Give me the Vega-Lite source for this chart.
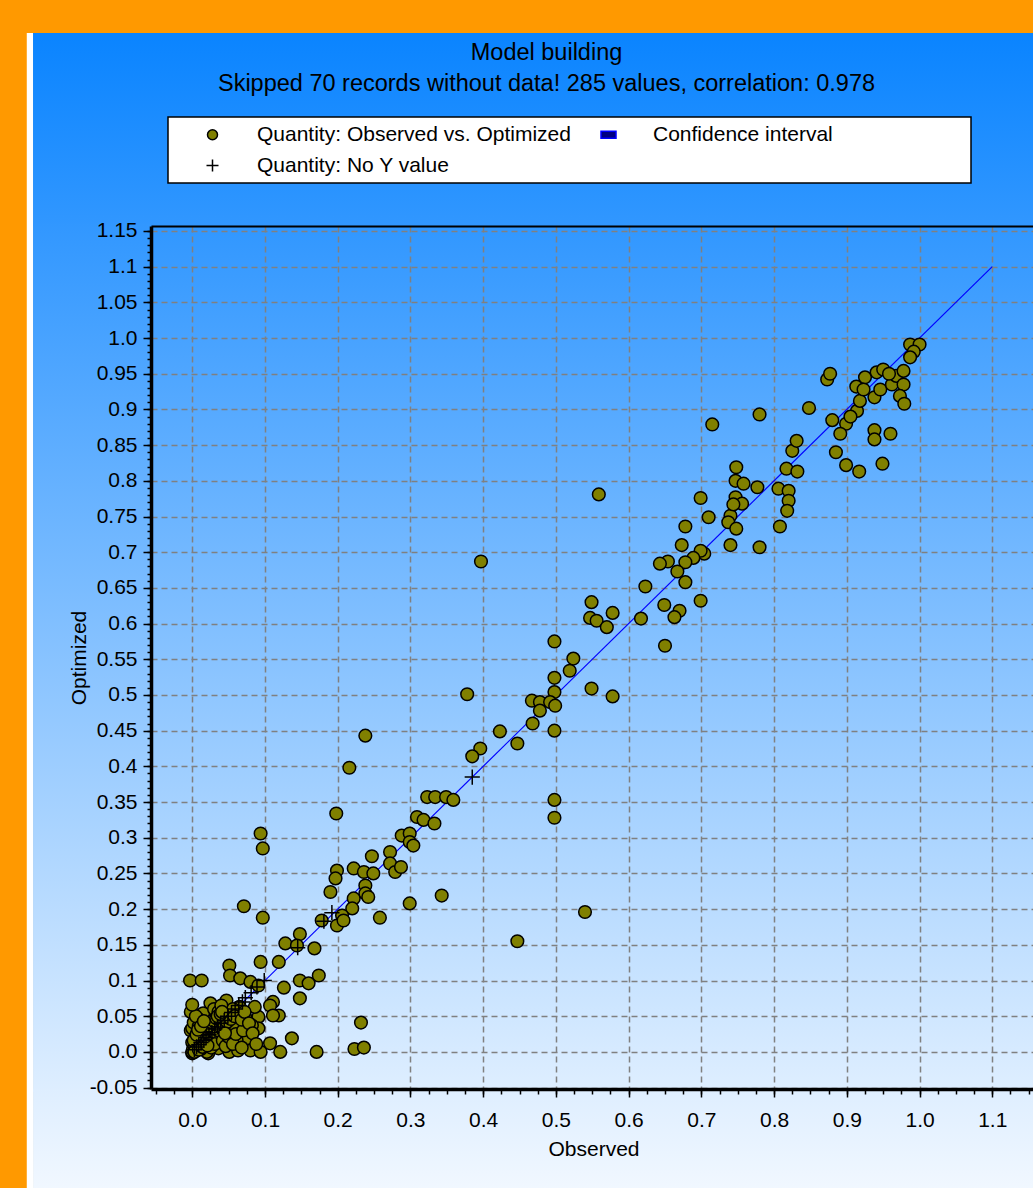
{
  "$schema": "https://vega.github.io/schema/vega-lite/v6.json",
  "width": 885,
  "height": 863,
  "autosize": {"type": "none"},
  "padding": {"left": 151, "top": 226, "right": 0, "bottom": 99},
  "background": "#FF9900",
  "config": {
    "font": "Liberation Sans",
    "view": {
      "stroke": null,
      "fill": {"gradient": "linear", "x1": 0, "y1": 0, "x2": 0, "y2": 1, "stops": [{"offset": 0, "color": "#3197FF"}, {"offset": 1, "color": "#DEEEFF"}]}
    },
    "legend": {"strokeWidth": 1.5}
  },
  "title": {
    "text": "Model building",
    "subtitle": "Skipped 70 records without data! 285 values, correlation: 0.978",
    "anchor": "middle",
    "frame": "group",
    "dx": -47,
    "offset": -63,
    "font": "Liberation Sans",
    "subtitleFont": "Liberation Sans",
    "fontSize": 23.5,
    "subtitleFontSize": 23.5,
    "fontWeight": "normal",
    "color": "#000000",
    "subtitleColor": "#000000",
    "subtitlePadding": 8
  },
  "resolve": {"axis": {"x": "independent", "y": "independent"}},
  "layer": [
    {
      "data": {"values": [{}]},
      "mark": {"type": "rect", "fill": "#FFFFFF", "clip": false},
      "encoding": {
        "x": {"datum": -0.2275, "type": "quantitative", "scale": {"domain": [-0.0567, 1.1601], "nice": false, "zero": false},
          "axis": {"orient": "bottom", "values": [-0.05,-0.025,0,0.025,0.05,0.075,0.1,0.125,0.15,0.175,0.2,0.225,0.25,0.275,0.3,0.325,0.35,0.375,0.4,0.425,0.45,0.475,0.5,0.525,0.55,0.575,0.6,0.625,0.65,0.675,0.7,0.725,0.75,0.775,0.8,0.825,0.85,0.875,0.9,0.925,0.95,0.975,1,1.025,1.05,1.075,1.1,1.125,1.15], "labels": false, "grid": false, "domain": false, "ticks": true, "tickSize": 5, "tickWidth": 1.5, "tickColor": "#000000", "title": null, "zindex": 1}},
        "x2": {"datum": -0.2185},
        "y": {"datum": -0.2, "type": "quantitative", "scale": {"domain": [-0.052, 1.157], "nice": false, "zero": false},
          "axis": {"orient": "left", "tickCount": 120, "labels": false, "grid": false, "domain": false, "ticks": true, "tickSize": 4, "tickWidth": 1.5, "tickColor": "#000000", "title": null, "zindex": 1}},
        "y2": {"datum": 1.4274}
      }
    },
    {
      "data": {"values": [{}]},
      "mark": {"type": "rect", "clip": false,
        "fill": {"gradient": "linear", "x1": 0, "y1": 0, "x2": 0, "y2": 1, "stops": [{"offset": 0, "color": "#0A84FF"}, {"offset": 1, "color": "#3197FF"}]}},
      "encoding": {
        "x": {"datum": -0.2189, "type": "quantitative", "scale": {"domain": [-0.0567, 1.1601], "nice": false, "zero": false},
          "axis": {"orient": "bottom", "values": [0,0.1,0.2,0.3,0.4,0.5,0.6,0.7,0.8,0.9,1,1.1], "grid": true, "gridColor": "#808080", "gridDash": [6, 4], "gridWidth": 1.5, "labels": false, "ticks": false, "domain": false, "title": null, "zindex": 0}},
        "x2": {"datum": 1.2},
        "y": {"datum": 1.1565, "type": "quantitative", "scale": {"domain": [-0.052, 1.157], "nice": false, "zero": false},
          "axis": {"orient": "left", "values": [-0.05,0,0.05,0.1,0.15,0.2,0.25,0.3,0.35,0.4,0.45,0.5,0.55,0.6,0.65,0.7,0.75,0.8,0.85,0.9,0.95,1,1.05,1.1,1.15], "grid": true, "gridColor": "#808080", "gridDash": [6, 4], "gridWidth": 1.5, "labels": false, "ticks": false, "domain": false, "title": null, "zindex": 0}},
        "y2": {"datum": 1.4274}
      }
    },
    {
      "data": {"values": [{}]},
      "mark": {"type": "rect", "clip": false,
        "fill": {"gradient": "linear", "x1": 0, "y1": 0, "x2": 0, "y2": 1, "stops": [{"offset": 0, "color": "#3197FF"}, {"offset": 1, "color": "#DEEEFF"}]}},
      "encoding": {
        "x": {"datum": -0.2189, "type": "quantitative", "scale": {"domain": [-0.0567, 1.1601], "nice": false, "zero": false},
          "axis": {"orient": "bottom", "values": [0,0.1,0.2,0.3,0.4,0.5,0.6,0.7,0.8,0.9,1,1.1], "format": ".1f", "grid": false, "domain": true, "domainColor": "#000000", "domainWidth": 3.5, "ticks": true, "tickSize": 8, "tickWidth": 1.5, "tickColor": "#000000", "labelFont": "Liberation Sans", "labelFontSize": 21, "labelColor": "#000000", "labelPadding": 12, "labelOverlap": false, "title": "Observed", "titleFont": "Liberation Sans", "titleFontSize": 21, "titleFontWeight": "normal", "titleColor": "#000000", "titlePadding": 8, "zindex": 1}},
        "x2": {"datum": -0.0562},
        "y": {"datum": -0.056, "type": "quantitative", "scale": {"domain": [-0.052, 1.157], "nice": false, "zero": false},
          "axis": {"orient": "left", "values": [-0.05,0,0.05,0.1,0.15,0.2,0.25,0.3,0.35,0.4,0.45,0.5,0.55,0.6,0.65,0.7,0.75,0.8,0.85,0.9,0.95,1,1.05,1.1,1.15], "labelExpr": "replace((round(datum.value*100) % 10 == 0) ? format(datum.value, '.1f') : format(datum.value, '.2f'), '\u2212', '-')", "grid": false, "domain": true, "domainColor": "#000000", "domainWidth": 3.5, "ticks": true, "tickSize": 8, "tickWidth": 1.5, "tickColor": "#000000", "labelFont": "Liberation Sans", "labelFontSize": 21, "labelColor": "#000000", "labelPadding": 6, "labelOverlap": false, "title": "Optimized", "titleFont": "Liberation Sans", "titleFontSize": 21, "titleFontWeight": "normal", "titleColor": "#000000", "titlePadding": 0, "zindex": 1}},
        "y2": {"datum": 1.1605}
      }
    },
    {
      "data": {"values": [{}]},
      "mark": {"type": "rect", "clip": false,
        "fill": {"gradient": "linear", "x1": 0, "y1": 0, "x2": 0, "y2": 1, "stops": [{"offset": 0, "color": "#DEEEFF"}, {"offset": 1, "color": "#F2F8FF"}]}},
      "encoding": {
        "x": {"datum": -0.2189, "type": "quantitative", "scale": {"domain": [-0.0567, 1.1601], "nice": false, "zero": false},
          "axis": {"orient": "top", "domain": true, "domainColor": "#000000", "domainWidth": 2, "ticks": false, "labels": false, "grid": false, "title": null, "zindex": 1}},
        "x2": {"datum": 1.2},
        "y": {"datum": -0.2, "type": "quantitative", "scale": {"domain": [-0.052, 1.157], "nice": false, "zero": false}, "axis": null},
        "y2": {"datum": -0.0515}
      }
    },
    {
      "data": {"values": [{"x": 0, "y": 0}, {"x": 1.1, "y": 1.1}]},
      "mark": {"type": "line", "stroke": "#0000FF", "strokeWidth": 1.2},
      "encoding": {
        "x": {"field": "x", "type": "quantitative", "scale": {"domain": [-0.0567, 1.1601], "nice": false, "zero": false}, "axis": null},
        "y": {"field": "y", "type": "quantitative", "scale": {"domain": [-0.052, 1.157], "nice": false, "zero": false}, "axis": null}
      }
    },
    {
      "data": {"values": [
        {"x":0.559,"y":0.781,"s":"Quantity: Observed vs. Optimized"},{"x":0.699,"y":0.776,"s":"Quantity: Observed vs. Optimized"},{"x":0.715,"y":0.879,"s":"Quantity: Observed vs. Optimized"},{"x":0.780,"y":0.893,"s":"Quantity: Observed vs. Optimized"},{"x":0.710,"y":0.749,"s":"Quantity: Observed vs. Optimized"},{"x":0.740,"y":0.751,"s":"Quantity: Observed vs. Optimized"},{"x":0.748,"y":0.819,"s":"Quantity: Observed vs. Optimized"},{"x":0.747,"y":0.800,"s":"Quantity: Observed vs. Optimized"},{"x":0.758,"y":0.796,"s":"Quantity: Observed vs. Optimized"},{"x":0.777,"y":0.791,"s":"Quantity: Observed vs. Optimized"},
        {"x":0.747,"y":0.777,"s":"Quantity: Observed vs. Optimized"},{"x":0.756,"y":0.768,"s":"Quantity: Observed vs. Optimized"},{"x":0.806,"y":0.789,"s":"Quantity: Observed vs. Optimized"},{"x":0.820,"y":0.786,"s":"Quantity: Observed vs. Optimized"},{"x":0.820,"y":0.772,"s":"Quantity: Observed vs. Optimized"},{"x":0.818,"y":0.758,"s":"Quantity: Observed vs. Optimized"},{"x":0.825,"y":0.842,"s":"Quantity: Observed vs. Optimized"},{"x":0.831,"y":0.856,"s":"Quantity: Observed vs. Optimized"},{"x":0.817,"y":0.817,"s":"Quantity: Observed vs. Optimized"},{"x":0.832,"y":0.813,"s":"Quantity: Observed vs. Optimized"},
        {"x":0.848,"y":0.902,"s":"Quantity: Observed vs. Optimized"},{"x":0.880,"y":0.885,"s":"Quantity: Observed vs. Optimized"},{"x":0.899,"y":0.880,"s":"Quantity: Observed vs. Optimized"},{"x":0.891,"y":0.866,"s":"Quantity: Observed vs. Optimized"},{"x":0.885,"y":0.840,"s":"Quantity: Observed vs. Optimized"},{"x":0.899,"y":0.822,"s":"Quantity: Observed vs. Optimized"},{"x":0.917,"y":0.813,"s":"Quantity: Observed vs. Optimized"},{"x":0.938,"y":0.871,"s":"Quantity: Observed vs. Optimized"},{"x":0.938,"y":0.858,"s":"Quantity: Observed vs. Optimized"},{"x":0.960,"y":0.866,"s":"Quantity: Observed vs. Optimized"},
        {"x":0.949,"y":0.824,"s":"Quantity: Observed vs. Optimized"},{"x":0.873,"y":0.942,"s":"Quantity: Observed vs. Optimized"},{"x":0.877,"y":0.950,"s":"Quantity: Observed vs. Optimized"},{"x":0.914,"y":0.898,"s":"Quantity: Observed vs. Optimized"},{"x":0.918,"y":0.912,"s":"Quantity: Observed vs. Optimized"},{"x":0.913,"y":0.932,"s":"Quantity: Observed vs. Optimized"},{"x":0.925,"y":0.945,"s":"Quantity: Observed vs. Optimized"},{"x":0.923,"y":0.928,"s":"Quantity: Observed vs. Optimized"},{"x":0.938,"y":0.917,"s":"Quantity: Observed vs. Optimized"},{"x":0.946,"y":0.928,"s":"Quantity: Observed vs. Optimized"},
        {"x":0.941,"y":0.952,"s":"Quantity: Observed vs. Optimized"},{"x":0.950,"y":0.956,"s":"Quantity: Observed vs. Optimized"},{"x":0.962,"y":0.935,"s":"Quantity: Observed vs. Optimized"},{"x":0.968,"y":0.947,"s":"Quantity: Observed vs. Optimized"},{"x":0.978,"y":0.954,"s":"Quantity: Observed vs. Optimized"},{"x":0.978,"y":0.935,"s":"Quantity: Observed vs. Optimized"},{"x":0.973,"y":0.919,"s":"Quantity: Observed vs. Optimized"},{"x":0.979,"y":0.908,"s":"Quantity: Observed vs. Optimized"},{"x":0.987,"y":0.991,"s":"Quantity: Observed vs. Optimized"},{"x":1.000,"y":0.991,"s":"Quantity: Observed vs. Optimized"},
        {"x":0.992,"y":0.981,"s":"Quantity: Observed vs. Optimized"},{"x":0.987,"y":0.973,"s":"Quantity: Observed vs. Optimized"},{"x":0.958,"y":0.950,"s":"Quantity: Observed vs. Optimized"},{"x":0.905,"y":0.890,"s":"Quantity: Observed vs. Optimized"},
        {"x":0.744,"y":0.767,"s":"Quantity: Observed vs. Optimized"},{"x":0.808,"y":0.736,"s":"Quantity: Observed vs. Optimized"},{"x":0.780,"y":0.707,"s":"Quantity: Observed vs. Optimized"},{"x":0.737,"y":0.742,"s":"Quantity: Observed vs. Optimized"},{"x":0.748,"y":0.733,"s":"Quantity: Observed vs. Optimized"},{"x":0.740,"y":0.710,"s":"Quantity: Observed vs. Optimized"},{"x":0.678,"y":0.736,"s":"Quantity: Observed vs. Optimized"},{"x":0.673,"y":0.710,"s":"Quantity: Observed vs. Optimized"},{"x":0.704,"y":0.698,"s":"Quantity: Observed vs. Optimized"},{"x":0.699,"y":0.702,"s":"Quantity: Observed vs. Optimized"},
        {"x":0.689,"y":0.692,"s":"Quantity: Observed vs. Optimized"},{"x":0.678,"y":0.686,"s":"Quantity: Observed vs. Optimized"},{"x":0.667,"y":0.673,"s":"Quantity: Observed vs. Optimized"},{"x":0.678,"y":0.658,"s":"Quantity: Observed vs. Optimized"},{"x":0.654,"y":0.687,"s":"Quantity: Observed vs. Optimized"},{"x":0.643,"y":0.684,"s":"Quantity: Observed vs. Optimized"},{"x":0.623,"y":0.652,"s":"Quantity: Observed vs. Optimized"},{"x":0.699,"y":0.632,"s":"Quantity: Observed vs. Optimized"},{"x":0.649,"y":0.626,"s":"Quantity: Observed vs. Optimized"},{"x":0.670,"y":0.618,"s":"Quantity: Observed vs. Optimized"},
        {"x":0.663,"y":0.609,"s":"Quantity: Observed vs. Optimized"},{"x":0.617,"y":0.607,"s":"Quantity: Observed vs. Optimized"},{"x":0.650,"y":0.569,"s":"Quantity: Observed vs. Optimized"},{"x":0.549,"y":0.630,"s":"Quantity: Observed vs. Optimized"},{"x":0.547,"y":0.608,"s":"Quantity: Observed vs. Optimized"},{"x":0.556,"y":0.604,"s":"Quantity: Observed vs. Optimized"},{"x":0.570,"y":0.595,"s":"Quantity: Observed vs. Optimized"},{"x":0.578,"y":0.615,"s":"Quantity: Observed vs. Optimized"},{"x":0.549,"y":0.509,"s":"Quantity: Observed vs. Optimized"},{"x":0.578,"y":0.498,"s":"Quantity: Observed vs. Optimized"},
        {"x":0.397,"y":0.687,"s":"Quantity: Observed vs. Optimized"},{"x":0.498,"y":0.575,"s":"Quantity: Observed vs. Optimized"},{"x":0.524,"y":0.551,"s":"Quantity: Observed vs. Optimized"},{"x":0.519,"y":0.534,"s":"Quantity: Observed vs. Optimized"},{"x":0.498,"y":0.524,"s":"Quantity: Observed vs. Optimized"},{"x":0.498,"y":0.504,"s":"Quantity: Observed vs. Optimized"},{"x":0.467,"y":0.492,"s":"Quantity: Observed vs. Optimized"},{"x":0.478,"y":0.490,"s":"Quantity: Observed vs. Optimized"},{"x":0.492,"y":0.490,"s":"Quantity: Observed vs. Optimized"},{"x":0.478,"y":0.478,"s":"Quantity: Observed vs. Optimized"},
        {"x":0.499,"y":0.485,"s":"Quantity: Observed vs. Optimized"},{"x":0.468,"y":0.460,"s":"Quantity: Observed vs. Optimized"},{"x":0.498,"y":0.450,"s":"Quantity: Observed vs. Optimized"},{"x":0.447,"y":0.432,"s":"Quantity: Observed vs. Optimized"},{"x":0.423,"y":0.449,"s":"Quantity: Observed vs. Optimized"},{"x":0.378,"y":0.501,"s":"Quantity: Observed vs. Optimized"},{"x":0.238,"y":0.443,"s":"Quantity: Observed vs. Optimized"},{"x":0.216,"y":0.398,"s":"Quantity: Observed vs. Optimized"},{"x":0.396,"y":0.425,"s":"Quantity: Observed vs. Optimized"},{"x":0.385,"y":0.414,"s":"Quantity: Observed vs. Optimized"},
        {"x":0.498,"y":0.353,"s":"Quantity: Observed vs. Optimized"},{"x":0.498,"y":0.328,"s":"Quantity: Observed vs. Optimized"},{"x":0.540,"y":0.196,"s":"Quantity: Observed vs. Optimized"},{"x":0.447,"y":0.155,"s":"Quantity: Observed vs. Optimized"},{"x":0.343,"y":0.219,"s":"Quantity: Observed vs. Optimized"},
        {"x":0.323,"y":0.357,"s":"Quantity: Observed vs. Optimized"},{"x":0.334,"y":0.357,"s":"Quantity: Observed vs. Optimized"},{"x":0.349,"y":0.357,"s":"Quantity: Observed vs. Optimized"},{"x":0.359,"y":0.353,"s":"Quantity: Observed vs. Optimized"},{"x":0.309,"y":0.329,"s":"Quantity: Observed vs. Optimized"},{"x":0.318,"y":0.325,"s":"Quantity: Observed vs. Optimized"},{"x":0.333,"y":0.320,"s":"Quantity: Observed vs. Optimized"},{"x":0.198,"y":0.334,"s":"Quantity: Observed vs. Optimized"},
        {"x":0.094,"y":0.306,"s":"Quantity: Observed vs. Optimized"},{"x":0.097,"y":0.285,"s":"Quantity: Observed vs. Optimized"},{"x":0.288,"y":0.303,"s":"Quantity: Observed vs. Optimized"},{"x":0.299,"y":0.306,"s":"Quantity: Observed vs. Optimized"},{"x":0.299,"y":0.294,"s":"Quantity: Observed vs. Optimized"},{"x":0.304,"y":0.289,"s":"Quantity: Observed vs. Optimized"},{"x":0.272,"y":0.280,"s":"Quantity: Observed vs. Optimized"},{"x":0.247,"y":0.274,"s":"Quantity: Observed vs. Optimized"},{"x":0.222,"y":0.257,"s":"Quantity: Observed vs. Optimized"},{"x":0.199,"y":0.254,"s":"Quantity: Observed vs. Optimized"},
        {"x":0.197,"y":0.243,"s":"Quantity: Observed vs. Optimized"},{"x":0.236,"y":0.252,"s":"Quantity: Observed vs. Optimized"},{"x":0.249,"y":0.250,"s":"Quantity: Observed vs. Optimized"},{"x":0.272,"y":0.264,"s":"Quantity: Observed vs. Optimized"},{"x":0.279,"y":0.252,"s":"Quantity: Observed vs. Optimized"},{"x":0.287,"y":0.259,"s":"Quantity: Observed vs. Optimized"},{"x":0.190,"y":0.224,"s":"Quantity: Observed vs. Optimized"},{"x":0.238,"y":0.233,"s":"Quantity: Observed vs. Optimized"},{"x":0.238,"y":0.222,"s":"Quantity: Observed vs. Optimized"},{"x":0.242,"y":0.217,"s":"Quantity: Observed vs. Optimized"},
        {"x":0.222,"y":0.215,"s":"Quantity: Observed vs. Optimized"},{"x":0.220,"y":0.201,"s":"Quantity: Observed vs. Optimized"},{"x":0.206,"y":0.191,"s":"Quantity: Observed vs. Optimized"},{"x":0.199,"y":0.177,"s":"Quantity: Observed vs. Optimized"},{"x":0.208,"y":0.184,"s":"Quantity: Observed vs. Optimized"},{"x":0.178,"y":0.184,"s":"Quantity: Observed vs. Optimized"},{"x":0.071,"y":0.204,"s":"Quantity: Observed vs. Optimized"},{"x":0.097,"y":0.188,"s":"Quantity: Observed vs. Optimized"},{"x":0.258,"y":0.188,"s":"Quantity: Observed vs. Optimized"},{"x":0.299,"y":0.208,"s":"Quantity: Observed vs. Optimized"},
        {"x":0.128,"y":0.152,"s":"Quantity: Observed vs. Optimized"},{"x":0.148,"y":0.165,"s":"Quantity: Observed vs. Optimized"},{"x":0.144,"y":0.149,"s":"Quantity: Observed vs. Optimized"},{"x":0.168,"y":0.145,"s":"Quantity: Observed vs. Optimized"},{"x":0.051,"y":0.121,"s":"Quantity: Observed vs. Optimized"},{"x":0.094,"y":0.126,"s":"Quantity: Observed vs. Optimized"},{"x":0.119,"y":0.126,"s":"Quantity: Observed vs. Optimized"},{"x":0.174,"y":0.107,"s":"Quantity: Observed vs. Optimized"},{"x":0.148,"y":0.100,"s":"Quantity: Observed vs. Optimized"},{"x":-0.003,"y":0.100,"s":"Quantity: Observed vs. Optimized"},
        {"x":0.013,"y":0.100,"s":"Quantity: Observed vs. Optimized"},{"x":0.052,"y":0.107,"s":"Quantity: Observed vs. Optimized"},{"x":0.066,"y":0.103,"s":"Quantity: Observed vs. Optimized"},{"x":0.080,"y":0.098,"s":"Quantity: Observed vs. Optimized"},{"x":0.091,"y":0.093,"s":"Quantity: Observed vs. Optimized"},{"x":0.160,"y":0.096,"s":"Quantity: Observed vs. Optimized"},{"x":0.126,"y":0.090,"s":"Quantity: Observed vs. Optimized"},{"x":0.148,"y":0.075,"s":"Quantity: Observed vs. Optimized"},{"x":0.111,"y":0.070,"s":"Quantity: Observed vs. Optimized"},{"x":0.119,"y":0.051,"s":"Quantity: Observed vs. Optimized"},
        {"x":0.091,"y":0.049,"s":"Quantity: Observed vs. Optimized"},{"x":0.091,"y":0.033,"s":"Quantity: Observed vs. Optimized"},{"x":0.075,"y":0.019,"s":"Quantity: Observed vs. Optimized"},{"x":0.107,"y":0.012,"s":"Quantity: Observed vs. Optimized"},{"x":0.121,"y":0.000,"s":"Quantity: Observed vs. Optimized"},{"x":0.137,"y":0.019,"s":"Quantity: Observed vs. Optimized"},{"x":0.171,"y":0.000,"s":"Quantity: Observed vs. Optimized"},{"x":0.232,"y":0.041,"s":"Quantity: Observed vs. Optimized"},{"x":0.223,"y":0.004,"s":"Quantity: Observed vs. Optimized"},{"x":0.236,"y":0.006,"s":"Quantity: Observed vs. Optimized"},
        {"x":-0.002,"y":0.056,"s":"Quantity: Observed vs. Optimized"},{"x":-0.002,"y":0.030,"s":"Quantity: Observed vs. Optimized"},{"x":0.018,"y":0.051,"s":"Quantity: Observed vs. Optimized"},{"x":0.025,"y":0.068,"s":"Quantity: Observed vs. Optimized"},{"x":0.047,"y":0.072,"s":"Quantity: Observed vs. Optimized"},{"x":0.065,"y":0.063,"s":"Quantity: Observed vs. Optimized"},{"x":0.060,"y":0.035,"s":"Quantity: Observed vs. Optimized"},{"x":0.051,"y":0.000,"s":"Quantity: Observed vs. Optimized"},{"x":0.022,"y":-0.002,"s":"Quantity: Observed vs. Optimized"},{"x":0.080,"y":0.002,"s":"Quantity: Observed vs. Optimized"},
        {"x":0.094,"y":0.000,"s":"Quantity: Observed vs. Optimized"},{"x":0.061,"y":0.016,"s":"Quantity: Observed vs. Optimized"},{"x":0.086,"y":0.063,"s":"Quantity: Observed vs. Optimized"},{"x":0.107,"y":0.065,"s":"Quantity: Observed vs. Optimized"},{"x":0.111,"y":0.051,"s":"Quantity: Observed vs. Optimized"},{"x":0.054,"y":0.014,"s":"Quantity: Observed vs. Optimized"},{"x":0.063,"y":0.002,"s":"Quantity: Observed vs. Optimized"},{"x":0.036,"y":0.005,"s":"Quantity: Observed vs. Optimized"},{"x":0.020,"y":0.000,"s":"Quantity: Observed vs. Optimized"},{"x":0.000,"y":-0.002,"s":"Quantity: Observed vs. Optimized"},
        {"x":0.000,"y":0.033,"s":"Quantity: Observed vs. Optimized"},{"x":0.015,"y":0.054,"s":"Quantity: Observed vs. Optimized"},{"x":0.043,"y":0.047,"s":"Quantity: Observed vs. Optimized"},{"x":0.073,"y":0.049,"s":"Quantity: Observed vs. Optimized"},{"x":0.082,"y":0.037,"s":"Quantity: Observed vs. Optimized"},
        {"x":0.000,"y":0.000,"s":"Quantity: Observed vs. Optimized"},{"x":0.002,"y":0.006,"s":"Quantity: Observed vs. Optimized"},{"x":0.004,"y":0.011,"s":"Quantity: Observed vs. Optimized"},{"x":0.000,"y":0.013,"s":"Quantity: Observed vs. Optimized"},{"x":0.006,"y":0.002,"s":"Quantity: Observed vs. Optimized"},{"x":0.008,"y":0.009,"s":"Quantity: Observed vs. Optimized"},{"x":0.010,"y":0.016,"s":"Quantity: Observed vs. Optimized"},{"x":0.012,"y":0.004,"s":"Quantity: Observed vs. Optimized"},{"x":0.015,"y":0.019,"s":"Quantity: Observed vs. Optimized"},{"x":0.016,"y":0.010,"s":"Quantity: Observed vs. Optimized"},
        {"x":0.018,"y":0.023,"s":"Quantity: Observed vs. Optimized"},{"x":0.020,"y":0.013,"s":"Quantity: Observed vs. Optimized"},{"x":0.022,"y":0.027,"s":"Quantity: Observed vs. Optimized"},{"x":0.024,"y":0.018,"s":"Quantity: Observed vs. Optimized"},{"x":0.026,"y":0.031,"s":"Quantity: Observed vs. Optimized"},{"x":0.028,"y":0.022,"s":"Quantity: Observed vs. Optimized"},{"x":0.030,"y":0.035,"s":"Quantity: Observed vs. Optimized"},{"x":0.032,"y":0.026,"s":"Quantity: Observed vs. Optimized"},{"x":0.034,"y":0.040,"s":"Quantity: Observed vs. Optimized"},{"x":0.036,"y":0.030,"s":"Quantity: Observed vs. Optimized"},
        {"x":0.038,"y":0.044,"s":"Quantity: Observed vs. Optimized"},{"x":0.040,"y":0.034,"s":"Quantity: Observed vs. Optimized"},{"x":0.042,"y":0.049,"s":"Quantity: Observed vs. Optimized"},{"x":0.044,"y":0.038,"s":"Quantity: Observed vs. Optimized"},{"x":0.046,"y":0.053,"s":"Quantity: Observed vs. Optimized"},{"x":0.048,"y":0.042,"s":"Quantity: Observed vs. Optimized"},{"x":0.050,"y":0.057,"s":"Quantity: Observed vs. Optimized"},{"x":0.053,"y":0.046,"s":"Quantity: Observed vs. Optimized"},{"x":0.056,"y":0.060,"s":"Quantity: Observed vs. Optimized"},{"x":0.058,"y":0.050,"s":"Quantity: Observed vs. Optimized"},
        {"x":0.004,"y":0.021,"s":"Quantity: Observed vs. Optimized"},{"x":0.007,"y":0.028,"s":"Quantity: Observed vs. Optimized"},{"x":0.002,"y":0.041,"s":"Quantity: Observed vs. Optimized"},{"x":0.010,"y":0.045,"s":"Quantity: Observed vs. Optimized"},{"x":0.009,"y":0.036,"s":"Quantity: Observed vs. Optimized"},{"x":0.030,"y":0.060,"s":"Quantity: Observed vs. Optimized"},{"x":0.036,"y":0.056,"s":"Quantity: Observed vs. Optimized"},{"x":0.040,"y":0.065,"s":"Quantity: Observed vs. Optimized"},{"x":0.020,"y":0.040,"s":"Quantity: Observed vs. Optimized"},{"x":0.026,"y":0.006,"s":"Quantity: Observed vs. Optimized"},
        {"x":0.031,"y":0.011,"s":"Quantity: Observed vs. Optimized"},{"x":0.042,"y":0.016,"s":"Quantity: Observed vs. Optimized"},{"x":0.046,"y":0.008,"s":"Quantity: Observed vs. Optimized"},{"x":0.050,"y":0.021,"s":"Quantity: Observed vs. Optimized"},{"x":0.056,"y":0.011,"s":"Quantity: Observed vs. Optimized"},{"x":0.060,"y":0.025,"s":"Quantity: Observed vs. Optimized"},{"x":0.068,"y":0.006,"s":"Quantity: Observed vs. Optimized"},{"x":0.070,"y":0.030,"s":"Quantity: Observed vs. Optimized"},{"x":0.068,"y":0.045,"s":"Quantity: Observed vs. Optimized"},{"x":0.072,"y":0.056,"s":"Quantity: Observed vs. Optimized"},
        {"x":0.078,"y":0.040,"s":"Quantity: Observed vs. Optimized"},{"x":0.083,"y":0.026,"s":"Quantity: Observed vs. Optimized"},{"x":0.088,"y":0.011,"s":"Quantity: Observed vs. Optimized"},{"x":0.045,"y":0.026,"s":"Quantity: Observed vs. Optimized"},{"x":0.014,"y":0.030,"s":"Quantity: Observed vs. Optimized"},{"x":0.005,"y":0.050,"s":"Quantity: Observed vs. Optimized"},{"x":0.000,"y":0.066,"s":"Quantity: Observed vs. Optimized"},
        {"x":0.001,"y":0.003,"s":"Quantity: Observed vs. Optimized"},{"x":0.003,"y":0.008,"s":"Quantity: Observed vs. Optimized"},{"x":0.005,"y":0.012,"s":"Quantity: Observed vs. Optimized"},{"x":0.007,"y":0.015,"s":"Quantity: Observed vs. Optimized"},{"x":0.009,"y":0.019,"s":"Quantity: Observed vs. Optimized"},{"x":0.011,"y":0.022,"s":"Quantity: Observed vs. Optimized"},{"x":0.013,"y":0.025,"s":"Quantity: Observed vs. Optimized"},{"x":0.017,"y":0.028,"s":"Quantity: Observed vs. Optimized"},{"x":0.019,"y":0.032,"s":"Quantity: Observed vs. Optimized"},{"x":0.021,"y":0.035,"s":"Quantity: Observed vs. Optimized"},
        {"x":0.023,"y":0.037,"s":"Quantity: Observed vs. Optimized"},{"x":0.027,"y":0.041,"s":"Quantity: Observed vs. Optimized"},{"x":0.029,"y":0.044,"s":"Quantity: Observed vs. Optimized"},{"x":0.033,"y":0.047,"s":"Quantity: Observed vs. Optimized"},{"x":0.035,"y":0.050,"s":"Quantity: Observed vs. Optimized"},{"x":0.039,"y":0.053,"s":"Quantity: Observed vs. Optimized"},{"x":0.041,"y":0.056,"s":"Quantity: Observed vs. Optimized"},{"x":0.002,"y":0.016,"s":"Quantity: Observed vs. Optimized"},{"x":0.006,"y":0.024,"s":"Quantity: Observed vs. Optimized"},{"x":0.008,"y":0.031,"s":"Quantity: Observed vs. Optimized"},
        {"x":0.012,"y":0.036,"s":"Quantity: Observed vs. Optimized"},{"x":0.016,"y":0.043,"s":"Quantity: Observed vs. Optimized"},{"x":0.003,"y":0.000,"s":"Quantity: Observed vs. Optimized"},{"x":0.009,"y":0.003,"s":"Quantity: Observed vs. Optimized"},{"x":0.014,"y":0.007,"s":"Quantity: Observed vs. Optimized"},{"x":0.021,"y":0.009,"s":"Quantity: Observed vs. Optimized"},
        {"x":0.385,"y":0.385,"s":"Quantity: No Y value"},{"x":0.181,"y":0.183,"s":"Quantity: No Y value"},{"x":0.192,"y":0.195,"s":"Quantity: No Y value"},{"x":0.145,"y":0.146,"s":"Quantity: No Y value"},{"x":0.099,"y":0.100,"s":"Quantity: No Y value"},{"x":0.073,"y":0.076,"s":"Quantity: No Y value"},{"x":0.003,"y":0.003,"s":"Quantity: No Y value"},{"x":0.006,"y":0.007,"s":"Quantity: No Y value"},{"x":0.009,"y":0.010,"s":"Quantity: No Y value"},{"x":0.012,"y":0.013,"s":"Quantity: No Y value"},
        {"x":0.016,"y":0.016,"s":"Quantity: No Y value"},{"x":0.019,"y":0.020,"s":"Quantity: No Y value"},{"x":0.023,"y":0.024,"s":"Quantity: No Y value"},{"x":0.027,"y":0.027,"s":"Quantity: No Y value"},{"x":0.031,"y":0.032,"s":"Quantity: No Y value"},{"x":0.035,"y":0.035,"s":"Quantity: No Y value"},{"x":0.039,"y":0.040,"s":"Quantity: No Y value"},{"x":0.044,"y":0.044,"s":"Quantity: No Y value"},{"x":0.049,"y":0.050,"s":"Quantity: No Y value"},{"x":0.054,"y":0.055,"s":"Quantity: No Y value"},
        {"x":0.059,"y":0.060,"s":"Quantity: No Y value"},{"x":0.064,"y":0.065,"s":"Quantity: No Y value"},{"x":0.069,"y":0.070,"s":"Quantity: No Y value"},{"x":0.081,"y":0.083,"s":"Quantity: No Y value"},{"x":0.089,"y":0.091,"s":"Quantity: No Y value"}
      ]},
      "mark": {"type": "point", "size": 160, "strokeWidth": 1.5, "opacity": 1, "clip": false},
      "encoding": {
        "x": {"field": "x", "type": "quantitative", "scale": {"domain": [-0.0567, 1.1601], "nice": false, "zero": false}, "axis": null},
        "y": {"field": "y", "type": "quantitative", "scale": {"domain": [-0.052, 1.157], "nice": false, "zero": false}, "axis": null},
        "shape": {"field": "s", "type": "nominal",
          "scale": {"domain": ["Quantity: Observed vs. Optimized", "Quantity: No Y value", "Confidence interval"], "range": ["circle", "M-1.2,0H1.2M0,-1.2V1.2", "M-1.5,-0.7H1.5V0.7H-1.5Z"]},
          "legend": {"title": "\u2800\u2800\u2800\u2800\u2800\u2800\u2800\u2800\u2800\u2800\u2800\u2800\u2800\u2800\u2800\u2800\u2800\u2800\u2800\u2800", "titleOrient": "right", "titlePadding": 5, "titleLimit": 141, "titleColor": "#FFFFFF", "titleFont": "Liberation Sans", "titleFontSize": 21, "orient": "none", "legendX": 17, "legendY": -109, "columns": 2, "columnPadding": 0, "rowPadding": 9, "padding": 7, "symbolOffset": 27, "labelOffset": 34, "fillColor": "#FFFFFF", "strokeColor": "#000000", "labelFont": "Liberation Sans", "labelFontSize": 21, "labelColor": "#000000", "labelLimit": 0, "symbolSize": 100, "symbolStrokeWidth": 1.5}},
        "fill": {"field": "s", "type": "nominal",
          "scale": {"domain": ["Quantity: Observed vs. Optimized", "Quantity: No Y value", "Confidence interval"], "range": ["#808000", "transparent", "#000080"]},
          "legend": {"title": "\u2800\u2800\u2800\u2800\u2800\u2800\u2800\u2800\u2800\u2800\u2800\u2800\u2800\u2800\u2800\u2800\u2800\u2800\u2800\u2800", "titleOrient": "right", "titlePadding": 5, "titleLimit": 141, "titleColor": "#FFFFFF", "titleFont": "Liberation Sans", "titleFontSize": 21, "orient": "none", "legendX": 17, "legendY": -109, "columns": 2, "columnPadding": 0, "rowPadding": 9, "padding": 7, "symbolOffset": 27, "labelOffset": 34, "fillColor": "#FFFFFF", "strokeColor": "#000000", "labelFont": "Liberation Sans", "labelFontSize": 21, "labelColor": "#000000", "labelLimit": 0, "symbolSize": 100, "symbolStrokeWidth": 1.5}},
        "stroke": {"field": "s", "type": "nominal",
          "scale": {"domain": ["Quantity: Observed vs. Optimized", "Quantity: No Y value", "Confidence interval"], "range": ["#000000", "#000000", "#0000FF"]},
          "legend": {"title": "\u2800\u2800\u2800\u2800\u2800\u2800\u2800\u2800\u2800\u2800\u2800\u2800\u2800\u2800\u2800\u2800\u2800\u2800\u2800\u2800", "titleOrient": "right", "titlePadding": 5, "titleLimit": 141, "titleColor": "#FFFFFF", "titleFont": "Liberation Sans", "titleFontSize": 21, "orient": "none", "legendX": 17, "legendY": -109, "columns": 2, "columnPadding": 0, "rowPadding": 9, "padding": 7, "symbolOffset": 27, "labelOffset": 34, "fillColor": "#FFFFFF", "strokeColor": "#000000", "labelFont": "Liberation Sans", "labelFontSize": 21, "labelColor": "#000000", "labelLimit": 0, "symbolSize": 100, "symbolStrokeWidth": 1.5}}
      }
    }
  ]
}
